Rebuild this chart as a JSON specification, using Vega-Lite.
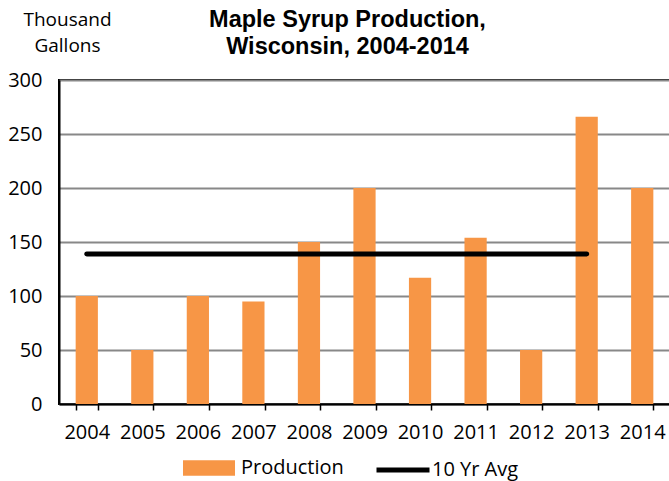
{
  "$schema": "https://vega.github.io/schema/vega-lite/v6.json",
  "width": 611,
  "height": 324,
  "autosize": "none",
  "padding": {"left": 59, "top": 80, "right": 0, "bottom": 77},
  "background": "white",
  "config": {
    "view": {"stroke": "black", "strokeWidth": 2},
    "font": "Open Sans"
  },
  "title": {
    "text": ["Maple Syrup  Production,", "Wisconsin, 2004-2014"],
    "font": "Liberation Sans",
    "fontSize": 23.5,
    "fontWeight": "bold",
    "color": "black",
    "lineHeight": 27,
    "anchor": "middle",
    "dx": -17,
    "offset": -48
  },
  "data": {
    "values": [
      {"year": "2004", "production": 100, "avg": 139},
      {"year": "2005", "production": 50, "avg": 139},
      {"year": "2006", "production": 100, "avg": 139},
      {"year": "2007", "production": 95, "avg": 139},
      {"year": "2008", "production": 150, "avg": 139},
      {"year": "2009", "production": 200, "avg": 139},
      {"year": "2010", "production": 117, "avg": 139},
      {"year": "2011", "production": 154, "avg": 139},
      {"year": "2012", "production": 50, "avg": 139},
      {"year": "2013", "production": 266, "avg": 139},
      {"year": "2014", "production": 200, "avg": null}
    ]
  },
  "encoding": {
    "x": {
      "field": "year",
      "type": "nominal",
      "scale": {"paddingInner": 0.6, "paddingOuter": 0.3},
      "axis": {
        "title": null,
        "labelAngle": 0,
        "labelFont": "Open Sans",
        "labelFontSize": 20,
        "labelColor": "black",
        "domainColor": "black",
        "domainWidth": 2,
        "tickColor": "black",
        "tickWidth": 1.5,
        "tickSize": 6,
        "tickBand": "extent",
        "labelPadding": 12,
        "grid": false
      }
    }
  },
  "layer": [
    {
      "mark": {"type": "bar"},
      "encoding": {
        "y": {
          "field": "production",
          "type": "quantitative",
          "scale": {"domain": [0, 300], "nice": false},
          "axis": {
            "values": [0, 50, 100, 150, 200, 250, 300],
            "title": ["Thousand", "Gallons"],
            "titleAngle": 0,
            "titleFont": "Open Sans",
            "titleFontSize": 19,
            "titleFontWeight": "normal",
            "titleColor": "black",
            "titleLineHeight": 26,
            "titleAlign": "center",
            "titleBaseline": "top",
            "titleX": 8,
            "titleY": -70,
            "labelFont": "Open Sans",
            "labelFontSize": 20,
            "labelColor": "black",
            "labelPadding": 17,
            "ticks": false,
            "domainColor": "black",
            "domainWidth": 2,
            "gridColor": "#888888",
            "gridWidth": 2
          }
        },
        "color": {
          "datum": "Production",
          "scale": {"range": ["#F79646"]},
          "legend": {
            "orient": "none",
            "legendX": 124,
            "legendY": 362,
            "title": null,
            "padding": 0,
            "symbolType": "M-1,-0.3H1V0.3H-1Z",
            "symbolSize": 2704,
            "symbolStrokeWidth": 0,
            "symbolOpacity": 1,
            "labelFont": "Open Sans",
            "labelFontSize": 20,
            "labelColor": "black",
            "labelOffset": 6
          }
        }
      }
    },
    {
      "transform": [{"filter": "datum.avg != null"}],
      "mark": {"type": "line", "strokeWidth": 5, "strokeCap": "round"},
      "encoding": {
        "y": {"field": "avg", "type": "quantitative"},
        "stroke": {
          "datum": "10 Yr Avg",
          "scale": {"range": ["black"]},
          "legend": {
            "orient": "none",
            "legendX": 315,
            "legendY": 361,
            "title": null,
            "padding": 0,
            "symbolType": "stroke",
            "symbolSize": 2809,
            "symbolStrokeWidth": 5,
            "labelFont": "Open Sans",
            "labelFontSize": 20,
            "labelColor": "black",
            "labelOffset": 0
          }
        }
      }
    }
  ]
}
